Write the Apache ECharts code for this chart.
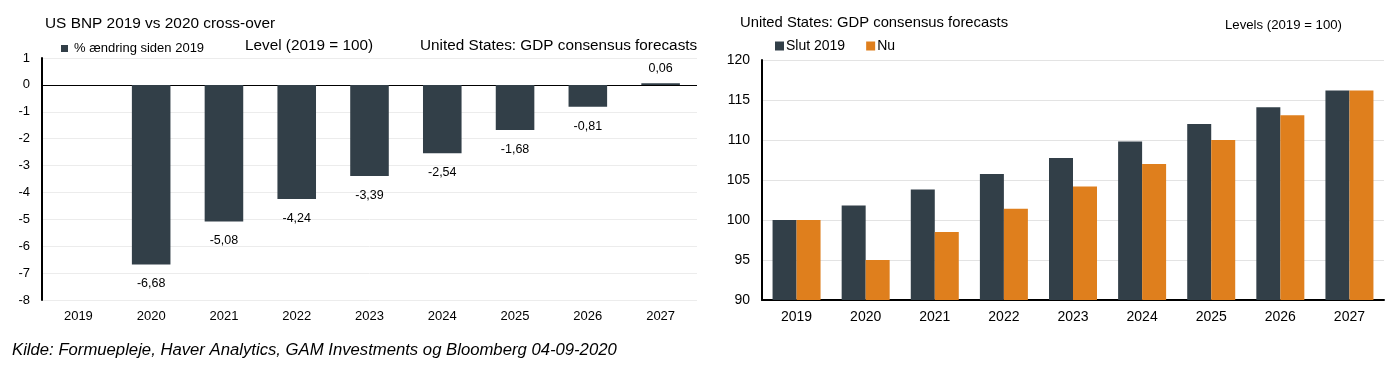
<!DOCTYPE html>
<html><head><meta charset="utf-8">
<script src="https://cdn.jsdelivr.net/npm/echarts@6/dist/echarts.min.js"></script>
<style>html,body{margin:0;padding:0;background:#fff}#c{width:1400px;height:380px}</style>
</head><body><div id="c"></div>
<script>
const years = ['2019','2020','2021','2022','2023','2024','2025','2026','2027'];
const pctChange = [0, -6.68, -5.08, -4.24, -3.39, -2.54, -1.68, -0.81, 0.06];
const slut2019 = [100, 101.8, 103.8, 105.75, 107.75, 109.8, 112.0, 114.1, 116.2];
const nu = [100, 95.0, 98.5, 101.4, 104.2, 107.0, 110.0, 113.1, 116.2];
const leftTicks = [-8, 1, 1];   // min, max, interval
const rightTicks = [90, 120, 5];

const FF = 'Liberation Sans, Arial, sans-serif';
const DARK = '#323f48', ORANGE = '#df7f1d', GRID = '#e3e3e3', GRID_L = '#ececec';
const chart = echarts.init(document.getElementById('c'));

const leftSplitColors = [];
for (let v = leftTicks[0]; v <= leftTicks[1]; v += leftTicks[2]) {
  leftSplitColors.push(v === 0 ? '#000' : GRID_L);
}

chart.setOption({
  animation: false,
  textStyle: {fontFamily: FF},
  title: [
    {text: 'US BNP 2019 vs 2020 cross-over', left: 40, top: 11, textStyle: {fontSize: 15.4, fontWeight: 'normal', color: '#000', fontFamily: FF}},
    {text: 'United States: GDP consensus forecasts', left: 735, top: 10, textStyle: {fontSize: 14.8, fontWeight: 'normal', color: '#000', fontFamily: FF}}
  ],
  legend: [
    {data: ['% ændring siden 2019'], left: 56, top: 37, icon: 'rect', itemWidth: 7, itemHeight: 7, itemGap: 10,
     textStyle: {fontSize: 13, color: '#000', fontFamily: FF, padding: [0,0,0,1]}},
    {data: ['Slut 2019', 'Nu'], left: 770, top: 34, icon: 'rect', itemWidth: 9, itemHeight: 9, itemGap: 21,
     textStyle: {fontSize: 14, color: '#000', fontFamily: FF, padding: [0,0,0,-3]}}
  ],
  graphic: [
    {type: 'text', left: 245, top: 38, style: {text: 'Level (2019 = 100)', font: '15.3px ' + FF, fill: '#000'}},
    {type: 'text', left: 420, top: 38, style: {text: 'United States: GDP consensus forecasts', font: '15.3px ' + FF, fill: '#000'}},
    {type: 'text', left: 1225, top: 19, style: {text: 'Levels (2019 = 100)', font: '13.2px ' + FF, fill: '#000'}},
    {type: 'text', left: 12, top: 342, style: {text: 'Kilde: Formuepleje, Haver Analytics, GAM Investments og Bloomberg 04-09-2020', font: 'italic 16.7px ' + FF, fill: '#000'}}
  ],
  grid: [
    {left: 42, right: 703, top: 58, bottom: 80},
    {left: 762, right: 16, top: 60, bottom: 80}
  ],
  xAxis: [
    {type: 'category', gridIndex: 0, data: years, axisLine: {show: false, onZero: false}, axisTick: {show: false},
     axisLabel: {color: '#000', fontSize: 13, margin: 10, fontFamily: FF}},
    {type: 'category', gridIndex: 1, data: years, axisLine: {show: true, onZero: false, lineStyle: {color: '#000', width: 2}}, axisTick: {show: false},
     axisLabel: {color: '#000', fontSize: 14, margin: 10, fontFamily: FF}}
  ],
  yAxis: [
    {type: 'value', gridIndex: 0, min: leftTicks[0], max: leftTicks[1], interval: leftTicks[2],
     axisLine: {show: true, lineStyle: {color: '#000', width: 2}}, axisTick: {show: false},
     axisLabel: {color: '#000', fontSize: 13, margin: 12, fontFamily: FF},
     splitLine: {show: true, lineStyle: {color: leftSplitColors, width: 1}}},
    {type: 'value', gridIndex: 1, min: rightTicks[0], max: rightTicks[1], interval: rightTicks[2],
     axisLine: {show: true, lineStyle: {color: '#000', width: 2}}, axisTick: {show: false},
     axisLabel: {color: '#000', fontSize: 14, margin: 12, fontFamily: FF},
     splitLine: {show: true, lineStyle: {color: GRID, width: 1}}}
  ],
  series: [
    {name: '% ændring siden 2019', type: 'bar', xAxisIndex: 0, yAxisIndex: 0, barWidth: '53%',
     itemStyle: {color: DARK},
     data: pctChange.map(v => ({value: v, label: {show: v !== 0, position: v < 0 ? 'bottom' : 'top', distance: v < 0 ? 13 : 8}})),
     label: {color: '#000', fontSize: 12.5, fontFamily: FF,
       formatter: p => p.value.toFixed(2).replace('.', ',')}},
    {name: 'Slut 2019', type: 'bar', xAxisIndex: 1, yAxisIndex: 1, barWidth: 24, barGap: '0%',
     itemStyle: {color: DARK}, data: slut2019},
    {name: 'Nu', type: 'bar', xAxisIndex: 1, yAxisIndex: 1, barWidth: 24, barGap: '0%',
     itemStyle: {color: ORANGE}, data: nu}
  ]
});
</script></body></html>
